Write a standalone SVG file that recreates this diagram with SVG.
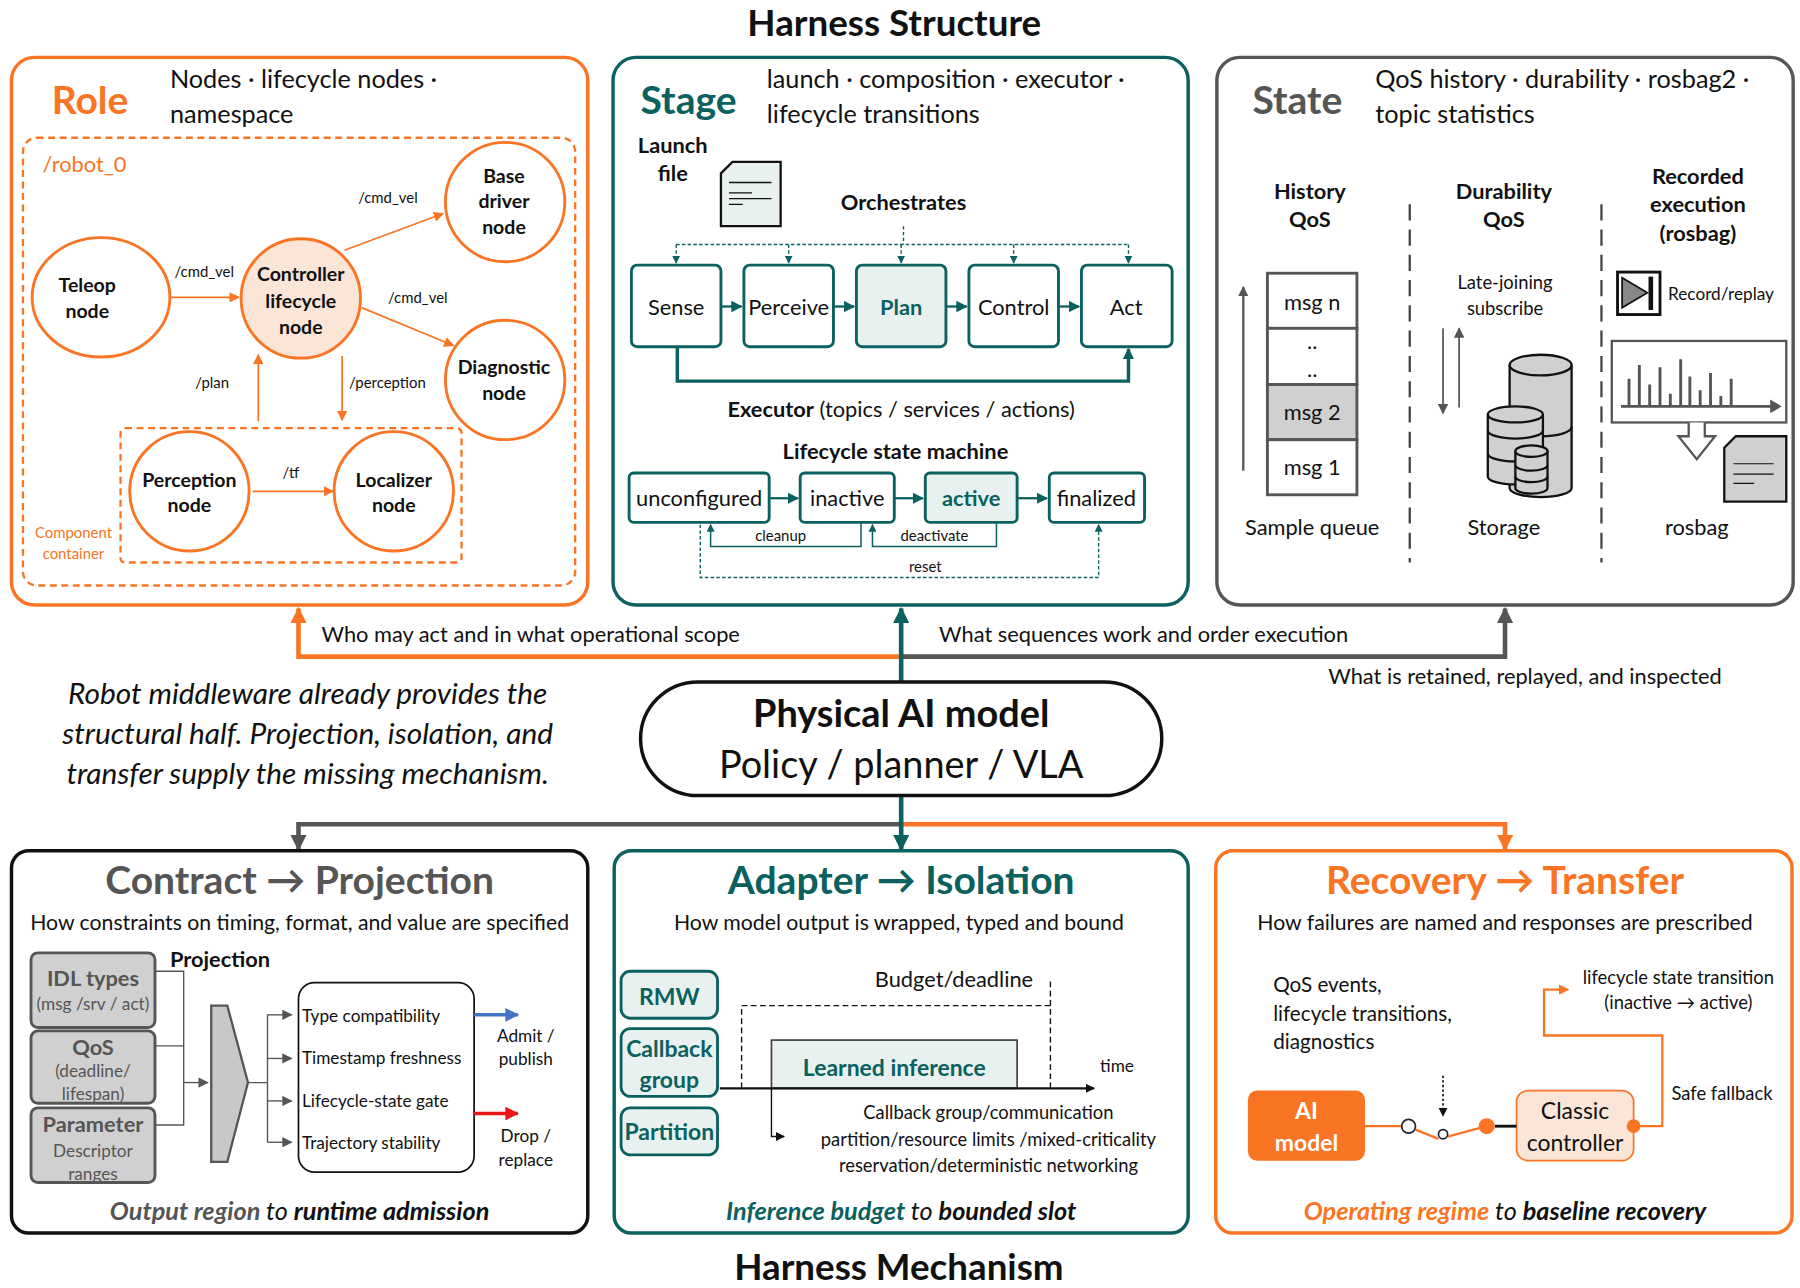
<svg xmlns="http://www.w3.org/2000/svg" width="1800" height="1288" viewBox="0 0 1800 1288">
<defs>
<style>
text{font-family:Lato,"Open Sans","Liberation Sans",sans-serif;fill:#111}
.b{font-weight:bold}.c{text-anchor:middle}
.or{fill:#F97523}.tl{fill:#0B6060}.gy{fill:#555}
.ell{fill:#fff;stroke:#F97523;stroke-width:2.5}
.ol{stroke:#F97523;stroke-width:1.5;fill:none}
.tb{fill:#fff;stroke:#0B6060;stroke-width:2.5}
.tf{fill:#E8F1F0;stroke:#0B6060;stroke-width:2.5}
.gb{fill:#D0D0D0;stroke:#555;stroke-width:2.5}
</style>
<marker id="ao" viewBox="0 0 10 10" refX="9" refY="5" markerWidth="9" markerHeight="9" markerUnits="userSpaceOnUse" orient="auto"><path d="M0,0L10,5L0,10z" fill="#F97523"/></marker>
<marker id="aoL" viewBox="0 0 10 10" refX="9" refY="5" markerWidth="14" markerHeight="14" markerUnits="userSpaceOnUse" orient="auto"><path d="M0,0L10,5L0,10z" fill="#F97523"/></marker>
<marker id="at" viewBox="0 0 10 10" refX="9" refY="5" markerWidth="10" markerHeight="10" markerUnits="userSpaceOnUse" orient="auto"><path d="M0,0L10,5L0,10z" fill="#0B6060"/></marker>
<marker id="as" viewBox="0 0 10 10" refX="9" refY="5" markerWidth="7" markerHeight="7" markerUnits="userSpaceOnUse" orient="auto"><path d="M0,0L10,5L0,10z" fill="#0B6060"/></marker>
<marker id="atL" viewBox="0 0 10 10" refX="9" refY="5" markerWidth="14" markerHeight="14" markerUnits="userSpaceOnUse" orient="auto"><path d="M0,0L10,5L0,10z" fill="#0B6060"/></marker>
<marker id="ag" viewBox="0 0 10 10" refX="9" refY="5" markerWidth="9" markerHeight="9" markerUnits="userSpaceOnUse" orient="auto"><path d="M0,0L10,5L0,10z" fill="#555"/></marker>
<marker id="agL" viewBox="0 0 10 10" refX="9" refY="5" markerWidth="14" markerHeight="14" markerUnits="userSpaceOnUse" orient="auto"><path d="M0,0L10,5L0,10z" fill="#555"/></marker>
<marker id="ak" viewBox="0 0 10 10" refX="9" refY="5" markerWidth="8" markerHeight="8" markerUnits="userSpaceOnUse" orient="auto"><path d="M0,0L10,5L0,10z" fill="#111"/></marker>
<marker id="ab" viewBox="0 0 10 10" refX="9" refY="5" markerWidth="12" markerHeight="12" markerUnits="userSpaceOnUse" orient="auto"><path d="M0,0L10,5L0,10z" fill="#4472C4"/></marker>
<marker id="ar" viewBox="0 0 10 10" refX="9" refY="5" markerWidth="12" markerHeight="12" markerUnits="userSpaceOnUse" orient="auto"><path d="M0,0L10,5L0,10z" fill="#E81818"/></marker>
</defs>
<rect width="1800" height="1288" fill="#fff"/>
<g transform="scale(1.148)">
<text x="779" y="31" class="b c" font-size="32">Harness Structure</text>
<text x="783" y="1115" class="b c" font-size="32">Harness Mechanism</text>

<g id="connectors" fill="none">
<path d="M783,572H260V530" stroke="#F97523" stroke-width="4" marker-end="url(#aoL)"/>
<path d="M785,572H1311V530" stroke="#555" stroke-width="4" marker-end="url(#agL)"/>
<path d="M785,594V530" stroke="#0B6060" stroke-width="4" marker-end="url(#atL)"/>
<path d="M785,718H260V740" stroke="#555" stroke-width="4" marker-end="url(#agL)"/>
<path d="M785,718H1311V740" stroke="#F97523" stroke-width="4" marker-end="url(#aoL)"/>
<path d="M785,693V740" stroke="#0B6060" stroke-width="4" marker-end="url(#atL)"/>
</g>
<text x="280" y="559" font-size="19">Who may act and in what operational scope</text>
<text x="818" y="559" font-size="19">What sequences work and order execution</text>
<text x="1157" y="596" font-size="19">What is retained, replayed, and inspected</text>

<text class="c" font-size="26" font-style="italic"><tspan x="268" y="613">Robot middleware already provides the</tspan><tspan x="268" y="648">structural half. Projection, isolation, and</tspan><tspan x="268" y="683">transfer supply the missing mechanism.</tspan></text>

<g id="model">
<rect x="558" y="594" width="454" height="99" rx="50" fill="#fff" stroke="#111" stroke-width="3"/>
<text x="785" y="633" class="b c" font-size="33">Physical AI model</text>
<text x="785" y="678" class="c" font-size="33">Policy / planner / VLA</text>
</g>

<!-- ROLE -->
<g id="role">
<rect x="10" y="50" width="502" height="477" rx="20" fill="#fff" stroke="#F97523" stroke-width="3"/>
<text x="45" y="99" class="b or" font-size="34">Role</text>
<text x="148" y="77" font-size="22">Nodes · lifecycle nodes ·</text>
<text x="148" y="107" font-size="22">namespace</text>
<rect x="20" y="120" width="481" height="390" rx="12" fill="none" stroke="#F97523" stroke-width="2" stroke-dasharray="6,4"/>
<text x="37" y="150" class="or" font-size="19">/robot_0</text>
<rect x="105" y="373" width="297" height="117" rx="4" fill="none" stroke="#F97523" stroke-width="2" stroke-dasharray="6,4"/>
<text class="or c" font-size="13"><tspan x="64" y="469">Component</tspan><tspan x="64" y="487">container</tspan></text>
</g>
<g id="n-teleop"><ellipse cx="88" cy="259" rx="60" ry="52" class="ell"/><text class="b c" font-size="17"><tspan x="76" y="254">Teleop</tspan><tspan x="76" y="277">node</tspan></text></g>
<g id="n-controller"><ellipse cx="262" cy="260" rx="52" ry="52" fill="#FBE5D6" stroke="#F97523" stroke-width="2.5"/><text class="b c" font-size="17"><tspan x="262" y="245">Controller</tspan><tspan x="262" y="268">lifecycle</tspan><tspan x="262" y="291">node</tspan></text></g>
<g id="n-base"><ellipse cx="440" cy="176" rx="52" ry="52" class="ell"/><text class="b c" font-size="17"><tspan x="439" y="159">Base</tspan><tspan x="439" y="181">driver</tspan><tspan x="439" y="204">node</tspan></text></g>
<g id="n-diag"><ellipse cx="440" cy="331" rx="52" ry="52" class="ell"/><text class="b c" font-size="17"><tspan x="439" y="326">Diagnostic</tspan><tspan x="439" y="348">node</tspan></text></g>
<g id="n-perception"><ellipse cx="165" cy="428" rx="52" ry="52" class="ell"/><text class="b c" font-size="17"><tspan x="165" y="424">Perception</tspan><tspan x="165" y="446">node</tspan></text></g>
<g id="n-localizer"><ellipse cx="343" cy="428" rx="52" ry="52" class="ell"/><text class="b c" font-size="17"><tspan x="343" y="424">Localizer</tspan><tspan x="343" y="446">node</tspan></text></g>
<g id="role-edges">
<path d="M149,259H208" class="ol" marker-end="url(#ao)"/>
<path d="M300,218L386,186" class="ol" marker-end="url(#ao)"/>
<path d="M315,268L395,301" class="ol" marker-end="url(#ao)"/>
<path d="M225,367V309" class="ol" marker-end="url(#ao)"/>
<path d="M298,310V366" class="ol" marker-end="url(#ao)"/>
<path d="M220,428H290" class="ol" marker-end="url(#ao)"/>
</g>
<g font-size="13"><text x="152" y="241">/cmd_vel</text><text x="312" y="177">/cmd_vel</text><text x="338" y="264">/cmd_vel</text><text x="170" y="338">/plan</text><text x="304" y="338">/perception</text><text x="246" y="416">/tf</text></g>

<!-- STAGE -->
<g id="stage">
<rect x="534" y="50" width="501" height="477" rx="20" fill="#fff" stroke="#0B6060" stroke-width="3"/>
<text x="558" y="99" class="b tl" font-size="34">Stage</text>
<text x="668" y="77" font-size="22">launch · composition · executor ·</text>
<text x="668" y="107" font-size="22">lifecycle transitions</text>
<text class="b c" font-size="19"><tspan x="586" y="133">Launch</tspan><tspan x="586" y="158">file</tspan></text>
<path d="M638,141H680V197H628V151Z" fill="#E8F1F0" stroke="#111" stroke-width="2"/>
<path d="M635,159H672M635,168H655M635,173H672M635,178H647" stroke="#111" stroke-width="1.2"/>
<text x="787" y="183" class="b c" font-size="19">Orchestrates</text>
<g stroke="#0B6060" stroke-width="1.2" stroke-dasharray="3,2" fill="none">
<path d="M787,197V213M589,213H983"/>
<path d="M589,213V229" marker-end="url(#as)"/>
<path d="M687,213V229" marker-end="url(#as)"/>
<path d="M785,213V229" marker-end="url(#as)"/>
<path d="M883,213V229" marker-end="url(#as)"/>
<path d="M983,213V229" marker-end="url(#as)"/>
</g>
</g>
<g id="s-sense"><rect x="550" y="231" width="78" height="71" rx="5" class="tb"/><text x="589" y="274" class="c" font-size="19">Sense</text></g>
<g id="s-perceive"><rect x="648" y="231" width="78" height="71" rx="5" class="tb"/><text x="687" y="274" class="c" font-size="19">Perceive</text></g>
<g id="s-plan"><rect x="746" y="231" width="78" height="71" rx="5" class="tf"/><text x="785" y="274" class="c b tl" font-size="19">Plan</text></g>
<g id="s-control"><rect x="844" y="231" width="78" height="71" rx="5" class="tb"/><text x="883" y="274" class="c" font-size="19">Control</text></g>
<g id="s-act"><rect x="942" y="231" width="79" height="71" rx="5" class="tb"/><text x="981" y="274" class="c" font-size="19">Act</text></g>
<g stroke="#0B6060" stroke-width="2" fill="none">
<path d="M628,267H646" marker-end="url(#at)"/>
<path d="M726,267H744" marker-end="url(#at)"/>
<path d="M824,267H842" marker-end="url(#at)"/>
<path d="M922,267H940" marker-end="url(#at)"/>
<path d="M590,302V332H983V304" stroke-width="3" marker-end="url(#at)"/>
</g>
<text x="785" y="363" class="c" font-size="19"><tspan class="b">Executor</tspan> (topics / services / actions)</text>
<text x="780" y="400" class="c b" font-size="19">Lifecycle state machine</text>
<g id="l-unconf"><rect x="548" y="412" width="122" height="43" rx="4" class="tb"/><text x="609" y="441" class="c" font-size="19">unconfigured</text></g>
<g id="l-inactive"><rect x="697" y="412" width="82" height="43" rx="4" class="tb"/><text x="738" y="441" class="c" font-size="19">inactive</text></g>
<g id="l-active"><rect x="806" y="412" width="80" height="43" rx="4" class="tf"/><text x="846" y="441" class="c b tl" font-size="19">active</text></g>
<g id="l-final"><rect x="914" y="412" width="83" height="43" rx="4" class="tb"/><text x="955" y="441" class="c" font-size="19">finalized</text></g>
<g stroke="#0B6060" fill="none">
<path d="M670,434H695" stroke-width="2" marker-end="url(#at)"/>
<path d="M779,434H804" stroke-width="2" marker-end="url(#at)"/>
<path d="M886,434H912" stroke-width="2" marker-end="url(#at)"/>
<path d="M750,455V476H619V457" stroke-width="1.3" marker-end="url(#as)"/>
<path d="M868,455V476H760V457" stroke-width="1.3" marker-end="url(#as)"/>
<path d="M610,457V503H957V457" stroke-width="1.2" stroke-dasharray="3,2" marker-end="url(#as)"/>
</g>
<g font-size="13" class="c"><text x="680" y="471">cleanup</text><text x="814" y="471">deactivate</text><text x="806" y="498">reset</text></g>

<!-- STATE -->
<g id="state">
<rect x="1060" y="50" width="502" height="477" rx="20" fill="#fff" stroke="#555" stroke-width="3"/>
<text x="1091" y="99" class="b gy" font-size="34">State</text>
<text x="1198" y="77" font-size="22">QoS history · durability · rosbag2 ·</text>
<text x="1198" y="107" font-size="22">topic statistics</text>
<text class="b c" font-size="19"><tspan x="1141" y="173">History</tspan><tspan x="1141" y="198">QoS</tspan><tspan x="1310" y="173">Durability</tspan><tspan x="1310" y="198">QoS</tspan><tspan x="1479" y="160">Recorded</tspan><tspan x="1479" y="185">execution</tspan><tspan x="1479" y="210">(rosbag)</tspan></text>
<path d="M1228,178V490M1395,178V490" stroke="#444" stroke-width="2" stroke-dasharray="14,8"/>
<rect x="1104" y="238" width="78" height="48" fill="#fff" stroke="#555" stroke-width="2.5"/>
<rect x="1104" y="286" width="78" height="49" fill="#fff" stroke="#555" stroke-width="2.5"/>
<rect x="1104" y="335" width="78" height="48" fill="#D0D0D0" stroke="#555" stroke-width="2.5"/>
<rect x="1104" y="383" width="78" height="48" fill="#fff" stroke="#555" stroke-width="2.5"/>
<g class="c" font-size="19"><text x="1143" y="270">msg n</text><text x="1143" y="304">..</text><text x="1143" y="328">..</text><text x="1143" y="366">msg 2</text><text x="1143" y="414">msg 1</text><text x="1143" y="466">Sample queue</text><text x="1310" y="466">Storage</text><text x="1478" y="466">rosbag</text></g>
<path d="M1083,410V250" stroke="#555" stroke-width="2" marker-end="url(#ag)"/>
<text class="c" font-size="16"><tspan x="1311" y="252">Late-joining</tspan><tspan x="1311" y="274">subscribe</tspan></text>
<path d="M1257,286V360" stroke="#555" stroke-width="1.5" marker-end="url(#ag)"/>
<path d="M1271,355V286" stroke="#555" stroke-width="1.5" marker-end="url(#ag)"/>
<g fill="#D0D0D0" stroke="#111" stroke-width="2">
<path d="M1315,318V425A27,8 0 0 0 1369,425V318"/><ellipse cx="1342" cy="318" rx="27" ry="9"/>
<path d="M1315,372A27,8 0 0 0 1369,372" fill="none"/>
<path d="M1296,361V415A24,7 0 0 0 1344,415V361"/><ellipse cx="1320" cy="361" rx="24" ry="7"/>
<path d="M1296,375A24,7 0 0 0 1344,375M1296,395A24,7 0 0 0 1344,395" fill="none"/>
<path d="M1320,393V425A14,5 0 0 0 1348,425V393"/><ellipse cx="1334" cy="393" rx="14" ry="5"/>
<path d="M1320,405A14,5 0 0 0 1348,405M1320,415A14,5 0 0 0 1348,415" fill="none"/>
</g>
<rect x="1409" y="237" width="37" height="37" fill="#fff" stroke="#111" stroke-width="2.5"/>
<path d="M1413,242L1435,255L1413,268Z" fill="#888" stroke="#111" stroke-width="1.5"/><rect x="1436" y="241" width="4" height="29" fill="#111"/>
<text x="1453" y="261" font-size="15">Record/replay</text>
<rect x="1404" y="297" width="152" height="71" fill="#fff" stroke="#555" stroke-width="2"/>
<path d="M1412,354H1545M1419,354V330M1428,354V318M1437,354V335M1446,354V320M1455,354V343M1464,354V313M1472,354V328M1481,354V340M1490,354V325M1499,354V345M1508,354V330" stroke="#555" stroke-width="2.5" fill="none"/>
<path d="M1542,348L1552,354L1542,360Z" fill="#555"/>
<path d="M1471,368V380H1462L1478,400L1494,380H1485V368" fill="#fff" stroke="#555" stroke-width="2"/>
<path d="M1512,380H1556V437H1502V390Z" fill="#D0D0D0" stroke="#111" stroke-width="2"/>
<path d="M1510,404H1545M1510,413H1545M1510,421H1528" stroke="#111" stroke-width="1"/>
</g>

<!-- CONTRACT -->
<g id="contract">
<rect x="10" y="741" width="502" height="333" rx="15" fill="#fff" stroke="#111" stroke-width="3"/>
<text x="261" y="779" class="b c gy" font-size="34">Contract → Projection</text>
<text x="261" y="810" class="c" font-size="18.5">How constraints on timing, format, and value are specified</text>
<text x="148" y="842" class="b" font-size="19">Projection</text>
<rect x="27" y="830" width="108" height="65" rx="6" class="gb"/>
<rect x="27" y="898" width="108" height="63" rx="6" class="gb"/>
<rect x="27" y="965" width="108" height="65" rx="6" class="gb"/>
<text class="c gy" font-size="19"><tspan x="81" y="859" class="b">IDL types</tspan><tspan x="81" y="919" class="b">QoS</tspan><tspan x="81" y="986" class="b">Parameter</tspan></text>
<text class="c gy" font-size="15"><tspan x="81" y="880">(msg /srv / act)</tspan><tspan x="81" y="938">(deadline/</tspan><tspan x="81" y="958">lifespan)</tspan><tspan x="81" y="1008">Descriptor</tspan><tspan x="81" y="1028">ranges</tspan></text>
<path d="M135,846H160V980H135M135,911H160" fill="none" stroke="#555" stroke-width="1.2"/>
<path d="M160,943H181" stroke="#555" stroke-width="1.2" marker-end="url(#ag)"/>
<path d="M184,876H198L216,943L198,1012H184Z" fill="#C8C8C8" stroke="#555" stroke-width="2"/>
<path d="M216,943H233M233,884V995" fill="none" stroke="#555" stroke-width="1.2"/>
<path d="M233,884H254" stroke="#555" stroke-width="1.2" marker-end="url(#ag)"/>
<path d="M233,922H254" stroke="#555" stroke-width="1.2" marker-end="url(#ag)"/>
<path d="M233,959H254" stroke="#555" stroke-width="1.2" marker-end="url(#ag)"/>
<path d="M233,995H254" stroke="#555" stroke-width="1.2" marker-end="url(#ag)"/>
<rect x="260" y="856" width="153" height="165" rx="14" fill="#fff" stroke="#111" stroke-width="1.5"/>
<g font-size="15"><text x="263" y="890">Type compatibility</text><text x="263" y="927">Timestamp freshness</text><text x="263" y="964">Lifecycle-state gate</text><text x="263" y="1001">Trajectory stability</text></g>
<path d="M413,884H451" stroke="#4472C4" stroke-width="3" marker-end="url(#ab)"/>
<path d="M413,970H451" stroke="#E81818" stroke-width="3" marker-end="url(#ar)"/>
<text class="c" font-size="15"><tspan x="458" y="908">Admit /</tspan><tspan x="458" y="928">publish</tspan><tspan x="458" y="995">Drop /</tspan><tspan x="458" y="1016">replace</tspan></text>
<text x="261" y="1063" class="c" font-size="22" font-style="italic"><tspan class="b gy">Output region</tspan> to <tspan class="b">runtime admission</tspan></text>
</g>

<!-- ADAPTER -->
<g id="adapter">
<rect x="535" y="741" width="500" height="333" rx="15" fill="#fff" stroke="#0B6060" stroke-width="3"/>
<text x="785" y="779" class="b c tl" font-size="34">Adapter → Isolation</text>
<text x="783" y="810" class="c" font-size="18.5">How model output is wrapped, typed and bound</text>
<rect x="541" y="846" width="84" height="41" rx="8" class="tf"/>
<rect x="541" y="896" width="84" height="59" rx="8" class="tf"/>
<rect x="541" y="965" width="84" height="41" rx="8" class="tf"/>
<text class="c b tl" font-size="20"><tspan x="583" y="875">RMW</tspan><tspan x="583" y="921">Callback</tspan><tspan x="583" y="948">group</tspan><tspan x="583" y="993">Partition</tspan></text>
<text x="831" y="860" class="c" font-size="19">Budget/deadline</text>
<path d="M915,855V948M646,948V876H915" fill="none" stroke="#111" stroke-width="1.2" stroke-dasharray="5,3"/>
<rect x="672" y="906" width="214" height="42" fill="#E8F1F0" stroke="#444" stroke-width="1.5"/>
<text x="779" y="937" class="c b tl" font-size="20">Learned inference</text>
<path d="M627,948H953" stroke="#111" stroke-width="2" marker-end="url(#ak)"/>
<text x="973" y="934" class="c" font-size="15">time</text>
<path d="M672,948V990H683" fill="none" stroke="#111" stroke-width="1.2" marker-end="url(#ak)"/>
<text class="c" font-size="16"><tspan x="861" y="975">Callback group/communication</tspan><tspan x="861" y="998">partition/resource limits /mixed-criticality</tspan><tspan x="861" y="1021">reservation/deterministic networking</tspan></text>
<text x="785" y="1063" class="c" font-size="22" font-style="italic"><tspan class="b tl">Inference budget</tspan> to <tspan class="b">bounded slot</tspan></text>
</g>

<!-- RECOVERY -->
<g id="recovery">
<rect x="1059" y="741" width="502" height="333" rx="15" fill="#fff" stroke="#F97523" stroke-width="3"/>
<text x="1311" y="779" class="b c or" font-size="34">Recovery → Transfer</text>
<text x="1311" y="810" class="c" font-size="18.5">How failures are named and responses are prescribed</text>
<text font-size="18"><tspan x="1109" y="864">QoS events,</tspan><tspan x="1109" y="889">lifecycle transitions,</tspan><tspan x="1109" y="914">diagnostics</tspan></text>
<text class="c" font-size="16"><tspan x="1462" y="857">lifecycle state transition</tspan><tspan x="1462" y="879">(inactive → active)</tspan></text>
<rect x="1087" y="950" width="102" height="61" rx="8" fill="#F97523"/>
<text class="c b" font-size="20" style="fill:#fff"><tspan x="1138" y="975">AI</tspan><tspan x="1138" y="1003">model</tspan></text>
<rect x="1321" y="950" width="102" height="61" rx="10" fill="#FBE5D6" stroke="#F97523" stroke-width="1.5"/>
<text class="c" font-size="20"><tspan x="1372" y="975">Classic</tspan><tspan x="1372" y="1003">controller</tspan></text>
<path d="M1189,981H1221M1233,984L1253,992M1261,990L1295,981" stroke="#F97523" stroke-width="2" fill="none"/>
<path d="M1302,981H1321" stroke="#111" stroke-width="2.5"/>
<circle cx="1227" cy="981" r="6" fill="#fff" stroke="#223" stroke-width="1.5"/>
<circle cx="1257" cy="988" r="4" fill="#fff" stroke="#223" stroke-width="1.5"/>
<circle cx="1295" cy="981" r="7" fill="#F97523"/>
<path d="M1257,937V972" stroke="#111" stroke-width="1.5" stroke-dasharray="2,2" marker-end="url(#ak)"/>
<path d="M1423,981H1448V902H1345V862H1366" fill="none" stroke="#F97523" stroke-width="2" marker-end="url(#ao)"/>
<circle cx="1423" cy="981" r="6" fill="#F97523"/>
<text x="1456" y="958" font-size="16">Safe fallback</text>
<text x="1311" y="1063" class="c" font-size="22" font-style="italic"><tspan class="b or">Operating regime</tspan> to <tspan class="b">baseline recovery</tspan></text>
</g>
</g>
</svg>
